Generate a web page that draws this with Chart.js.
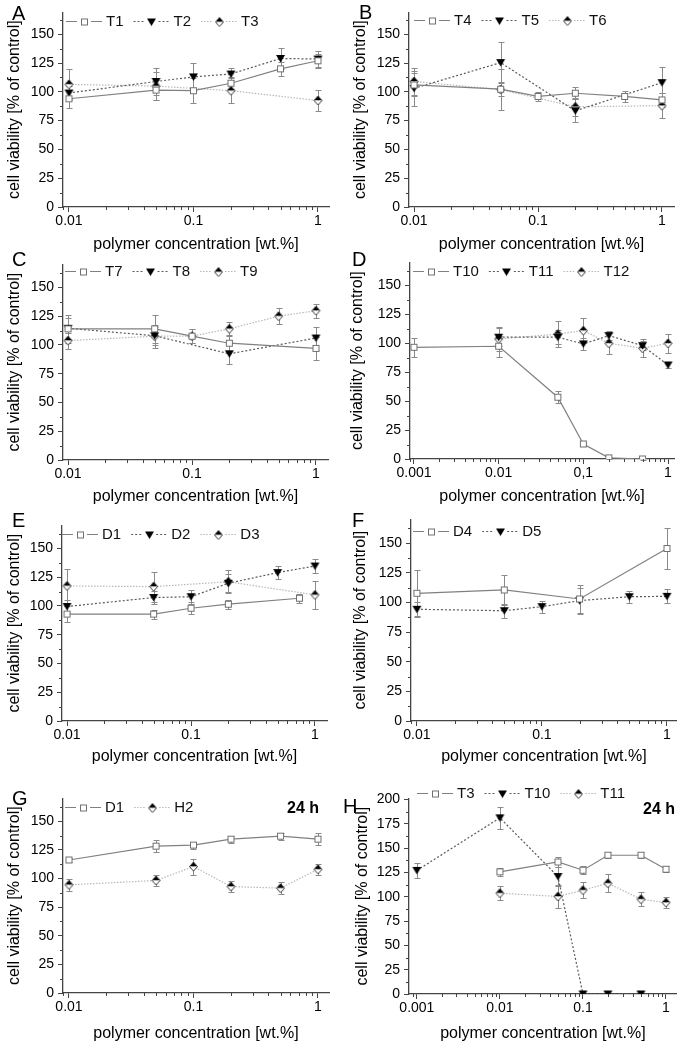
<!DOCTYPE html>
<html>
<head>
<meta charset="utf-8">
<script src="https://cdn.jsdelivr.net/npm/chart.js@4.4.1/dist/chart.umd.min.js"></script>
<style>
  html,body{margin:0;padding:0;background:#fff;}
  body{width:682px;height:1050px;position:relative;overflow:hidden;font-family:"Liberation Sans",Arial,sans-serif;}
  canvas{position:absolute;}
  .letter{position:absolute;font-size:20px;line-height:20px;color:#000;}
  .tag{position:absolute;font-size:16px;line-height:16px;font-weight:bold;color:#000;}
</style>
</head>
<body>
<script>
// ================= DATA =================
// Panel A
const A_T1_x = [0.01, 0.05, 0.1, 0.2, 0.5, 1];
const A_T1_y = [94, 101.5, 101, 107.5, 120, 127];
const A_T1_e = [8, 9, 11, 5, 6, 6];
const A_T2_x = [0.01, 0.05, 0.1, 0.2, 0.5, 1];
const A_T2_y = [99, 109, 113, 115.5, 129, 128.5];
const A_T2_e = [6, 12, 12, 5, 9, 7];
const A_T3_x = [0.01, 0.05, 0.2, 1];
const A_T3_y = [106.5, 105, 101, 92.5];
const A_T3_e = [13, 12, 11, 9.5];
// Panel B
const B_T4_x = [0.01, 0.05, 0.1, 0.2, 0.5, 1];
const B_T4_y = [106, 102.3, 96, 98.8, 96, 93];
const B_T4_e = [10, 6, 4, 5, 5, 6];
const B_T5_x = [0.01, 0.05, 0.2, 1];
const B_T5_y = [103, 125.4, 83.5, 108];
const B_T5_e = [15, 18, 10, 14];
const B_T6_x = [0.01, 0.05, 0.2, 1];
const B_T6_y = [109, 102, 87, 88];
const B_T6_e = [12, 18, 8, 11];
// Panel C
const C_T7_x = [0.01, 0.05, 0.1, 0.2, 1];
const C_T7_y = [114, 114, 107.6, 101.5, 97];
const C_T7_e = [12, 12, 6, 7, 10];
const C_T8_x = [0.01, 0.05, 0.2, 1];
const C_T8_y = [114.5, 108, 92.3, 106];
const C_T8_e = [9, 8, 9, 10];
const C_T9_x = [0.01, 0.05, 0.1, 0.2, 0.5, 1];
const C_T9_y = [103.8, 107.6, 107.6, 114, 125, 129.8];
const C_T9_e = [7, 10, 6, 6, 7, 6];
// Panel D
const D_T10_x = [0.001, 0.01, 0.05, 0.1, 0.2, 0.5];
const D_T10_y = [96.6, 97.5, 53.4, 13, 1, 0];
const D_T10_e = [8, 9, 5, 1, 1, 0.5];
const D_T11_x = [0.01, 0.05, 0.1, 0.2, 0.5, 1];
const D_T11_y = [105.3, 105.3, 99.5, 106.7, 98, 81.3];
const D_T11_e = [8, 6, 5, 4, 4, 3];
const D_T12_x = [0.01, 0.05, 0.1, 0.2, 0.5, 1];
const D_T12_y = [103.8, 108, 111, 100, 95.8, 100];
const D_T12_e = [10, 11, 11, 9, 8, 8];
// Panel E
const E_D1_x = [0.01, 0.05, 0.1, 0.2, 0.75];
const E_D1_y = [92.9, 92.9, 98, 101.5, 106.7];
const E_D1_e = [7, 4, 5, 4, 4];
const E_D2_x = [0.01, 0.05, 0.1, 0.2, 0.5, 1];
const E_D2_y = [99.5, 107.3, 108, 119.7, 129, 134.7];
const E_D2_e = [6, 6, 6, 8, 6, 6];
const E_D3_x = [0.01, 0.05, 0.2, 1];
const E_D3_y = [117.4, 116.8, 121, 109.6];
const E_D3_e = [15, 13, 10, 12];
// Panel F
const F_D4_x = [0.01, 0.05, 0.2, 1];
const F_D4_y = [107.7, 110.5, 102.9, 145.5];
const F_D4_e = [20, 13, 12, 17];
const F_D5_x = [0.01, 0.05, 0.1, 0.2, 0.5, 1];
const F_D5_y = [94.2, 93, 96.4, 101.5, 104.8, 105.1];
const F_D5_e = [6, 6, 5, 11, 5, 6];
// Panel G (24 h)
const G_D1_x = [0.01, 0.05, 0.1, 0.2, 0.5, 1];
const G_D1_y = [116.2, 128.3, 129.2, 134.4, 137, 134.4];
const G_D1_e = [2, 5, 3, 3, 3, 5];
const G_H2_x = [0.01, 0.05, 0.1, 0.2, 0.5, 1];
const G_H2_y = [94.5, 98.3, 110.4, 93, 91.6, 108];
const G_H2_e = [5, 5, 7, 5, 5, 5];
// Panel H (24 h)
const H_T3_x = [0.01, 0.05, 0.1, 0.2, 0.5, 1];
const H_T3_y = [125.5, 135.7, 127.2, 142.6, 142.6, 128.2];
const H_T3_e = [4, 5, 4, 3, 3, 3];
const H_T10_x = [0.001, 0.01, 0.05, 0.1, 0.2, 0.5];
const H_T10_y = [127, 181, 120.7, 0, 0, 0];
const H_T10_e = [8, 11, 10, 0, 0, 0];
const H_T11_x = [0.01, 0.05, 0.1, 0.2, 0.5, 1];
const H_T11_y = [103.6, 100.2, 106.7, 113.8, 97.4, 94];
const H_T11_e = [7, 12, 8, 9, 7, 6];

// tick labels
const xTicks2 = [0.01, 0.1, 1];
const xLabels2 = ['0.01', '0.1', '1'];
const xTicks3 = [0.001, 0.01, 0.1, 1];
const xLabelsD = ['0.001', '0.01', '0,1', '1'];
const xLabelsH = ['0.001', '0.01', '0.1', '1'];
const yTicks150 = [0, 25, 50, 75, 100, 125, 150];
const yTicks200 = [0, 25, 50, 75, 100, 125, 150, 175, 200];
const xTitle = 'polymer concentration [wt.%]';
const yTitle = 'cell viability [% of control]';

// ================= STYLE =================
const FONT = "'Liberation Sans', Arial, sans-serif";
Chart.defaults.font.family = FONT;
Chart.defaults.color = '#000';

function mkMarker(kind) {
  const c = document.createElement('canvas');
  c.width = 11; c.height = 11;
  const g = c.getContext('2d');
  g.translate(5.5, 5.5);
  if (kind === 'square') {
    g.fillStyle = '#fff'; g.fillRect(-3, -3, 6, 6);
    g.strokeStyle = '#707070'; g.lineWidth = 1; g.strokeRect(-3, -3, 6, 6);
  } else if (kind === 'tri') {
    g.fillStyle = '#000';
    g.beginPath(); g.moveTo(-4.5, -3.5); g.lineTo(4.5, -3.5); g.lineTo(0, 4); g.closePath(); g.fill();
  } else {
    g.fillStyle = '#000';
    g.beginPath(); g.moveTo(0, -4.5); g.lineTo(4, 0); g.lineTo(-4, 0); g.closePath(); g.fill();
    g.fillStyle = '#fff';
    g.beginPath(); g.moveTo(-4, 0); g.lineTo(4, 0); g.lineTo(0, 4.5); g.closePath(); g.fill();
    g.strokeStyle = '#222'; g.lineWidth = 0.9;
    g.beginPath(); g.moveTo(0, -4.5); g.lineTo(4, 0); g.lineTo(0, 4.5); g.lineTo(-4, 0); g.closePath(); g.stroke();
  }
  return c;
}
const MARK = { square: mkMarker('square'), tri: mkMarker('tri'), dia: mkMarker('dia') };
const SERIES_STYLE = {
  square: { borderColor: '#808080', borderWidth: 1.2, borderDash: [] },
  tri: { borderColor: '#5a5a5a', borderWidth: 1.2, borderDash: [2, 2] },
  dia: { borderColor: '#b8b8b8', borderWidth: 1.2, borderDash: [1.5, 1.5] }
};

function series(label, xs, ys, es, kind) {
  return Object.assign({
    label: label,
    data: xs.map((x, i) => ({ x: x, y: ys[i] })),
    errors: es,
    pointStyle: MARK[kind],
    pointRadius: 4,
    pointHoverRadius: 4,
    fill: false,
    tension: 0,
    showLine: true
  }, SERIES_STYLE[kind]);
}

// ================= PLUGINS =================
const errorBars = {
  id: 'errorBars',
  beforeDatasetsDraw(chart) {
    const { ctx, scales } = chart;
    const xs = scales.x, ys = scales.y;
    ctx.save();
    ctx.strokeStyle = '#8a8a8a';
    ctx.lineWidth = 1;
    chart.data.datasets.forEach(ds => {
      ds.data.forEach((p, i) => {
        const e = ds.errors[i];
        if (!e) return;
        const px = Math.round(xs.getPixelForValue(p.x)) + 0.5;
        const y1 = Math.round(ys.getPixelForValue(p.y - e)) + 0.5;
        const y2 = Math.round(ys.getPixelForValue(p.y + e)) + 0.5;
        ctx.beginPath();
        ctx.moveTo(px, y1); ctx.lineTo(px, y2);
        ctx.moveTo(px - 3, y1); ctx.lineTo(px + 3, y1);
        ctx.moveTo(px - 3, y2); ctx.lineTo(px + 3, y2);
        ctx.stroke();
      });
    });
    ctx.restore();
  }
};

const minorTicks = {
  id: 'minorTicks',
  afterDraw(chart) {
    const { ctx, scales, chartArea } = chart;
    const xs = scales.x, ys = scales.y;
    ctx.save();
    ctx.strokeStyle = '#444';
    ctx.lineWidth = 1;
    ctx.beginPath();
    for (let d = -4; d <= 1; d++) {
      for (let m = 2; m <= 9; m++) {
        const v = m * Math.pow(10, d);
        if (v < xs.min || v > xs.max) continue;
        const px = Math.round(xs.getPixelForValue(v)) + 0.5;
        ctx.moveTo(px, chartArea.bottom);
        ctx.lineTo(px, chartArea.bottom + 3);
      }
    }
    for (let v = 12.5; v <= ys.max; v += 25) {
      const py = Math.round(ys.getPixelForValue(v)) + 0.5;
      ctx.moveTo(chartArea.left - 3, py);
      ctx.lineTo(chartArea.left, py);
    }
    ctx.stroke();
    ctx.restore();
  }
};

const seriesKey = {
  id: 'seriesKey',
  afterDraw(chart, args, opts) {
    const ctx = chart.ctx;
    let x = opts.x;
    const y = opts.y;
    const L = 36, gap = 4, itemGap = 10;
    ctx.save();
    ctx.font = '15px ' + FONT;
    ctx.textBaseline = 'middle';
    ctx.fillStyle = '#111';
    chart.data.datasets.forEach(ds => {
      ctx.strokeStyle = ds.borderColor;
      ctx.lineWidth = ds.borderWidth;
      ctx.setLineDash(ds.borderDash || []);
      const mid = x + L / 2;
      ctx.beginPath();
      ctx.moveTo(x, y + 0.5); ctx.lineTo(mid - 7, y + 0.5);
      ctx.moveTo(mid + 7, y + 0.5); ctx.lineTo(x + L, y + 0.5);
      ctx.stroke();
      ctx.setLineDash([]);
      const img = ds.pointStyle;
      ctx.drawImage(img, Math.round(mid - img.width / 2), Math.round(y - img.height / 2) + 0.5);
      ctx.fillText(ds.label, x + L + gap, y + 1);
      x += L + gap + ctx.measureText(ds.label).width + itemGap;
    });
    ctx.restore();
  }
};

// ================= PANELS =================
const panels = [
  { letter: 'A', col: 0, left: 63, right: 329, top: 12, bottom: 207, xmin: 0.00895, xmax: 1.226, ymax: 169,
    xt: xTicks2, xl: xLabels2, yt: yTicks150, titleOff: 38, yTitleX: 15, legX: 66, legY: 21, letterX: 12, letterY: 6,
    ds: [series('T1', A_T1_x, A_T1_y, A_T1_e, 'square'), series('T2', A_T2_x, A_T2_y, A_T2_e, 'tri'), series('T3', A_T3_x, A_T3_y, A_T3_e, 'dia')] },
  { letter: 'B', col: 1, left: 409, right: 674, top: 12, bottom: 207, xmin: 0.00911, xmax: 1.25, ymax: 169,
    xt: xTicks2, xl: xLabels2, yt: yTicks150, titleOff: 38, yTitleX: 20, legX: 414, legY: 20, letterX: 359, letterY: 5,
    ds: [series('T4', B_T4_x, B_T4_y, B_T4_e, 'square'), series('T5', B_T5_x, B_T5_y, B_T5_e, 'tri'), series('T6', B_T6_x, B_T6_y, B_T6_e, 'dia')] },
  { letter: 'C', col: 0, left: 63, right: 328, top: 264, bottom: 460, xmin: 0.00911, xmax: 1.25, ymax: 170,
    xt: xTicks2, xl: xLabels2, yt: yTicks150, titleOff: 37, yTitleX: 15, legX: 65, legY: 271, letterX: 12, letterY: 252,
    ds: [series('T7', C_T7_x, C_T7_y, C_T7_e, 'square'), series('T8', C_T8_x, C_T8_y, C_T8_e, 'tri'), series('T9', C_T9_x, C_T9_y, C_T9_e, 'dia')] },
  { letter: 'D', col: 1, left: 410, right: 674, top: 262, bottom: 459, xmin: 0.000897, xmax: 1.177, ymax: 170,
    xt: xTicks3, xl: xLabelsD, yt: yTicks150, titleOff: 38, yTitleX: 17, legX: 413, legY: 271, letterX: 352, letterY: 252,
    ds: [series('T10', D_T10_x, D_T10_y, D_T10_e, 'square'), series('T11', D_T11_x, D_T11_y, D_T11_e, 'tri'), series('T12', D_T12_x, D_T12_y, D_T12_e, 'dia')] },
  { letter: 'E', col: 0, left: 62, right: 327, top: 525, bottom: 721, xmin: 0.00911, xmax: 1.25, ymax: 170,
    xt: xTicks2, xl: xLabels2, yt: yTicks150, titleOff: 36, yTitleX: 15, legX: 62, legY: 534, letterX: 12, letterY: 513,
    ds: [series('D1', E_D1_x, E_D1_y, E_D1_e, 'square'), series('D2', E_D2_x, E_D2_y, E_D2_e, 'tri'), series('D3', E_D3_x, E_D3_y, E_D3_e, 'dia')] },
  { letter: 'F', col: 1, left: 411, right: 681, top: 519, bottom: 721, xmin: 0.00897, xmax: 1.199, ymax: 170,
    xt: xTicks2, xl: xLabels2, yt: yTicks150, titleOff: 36, yTitleX: 20, legX: 413, legY: 531, letterX: 352, letterY: 513,
    ds: [series('D4', F_D4_x, F_D4_y, F_D4_e, 'square'), series('D5', F_D5_x, F_D5_y, F_D5_e, 'tri')] },
  { letter: 'G', col: 0, left: 63, right: 329, top: 798, bottom: 993, xmin: 0.00895, xmax: 1.226, ymax: 170,
    xt: xTicks2, xl: xLabels2, yt: yTicks150, titleOff: 41, yTitleX: 15, legX: 65, legY: 807, letterX: 12, letterY: 791, tag: [287, 802],
    ds: [series('D1', G_D1_x, G_D1_y, G_D1_e, 'square'), series('H2', G_H2_x, G_H2_y, G_H2_e, 'dia')] },
  { letter: 'H', col: 1, left: 409, right: 681, top: 798, bottom: 994, xmin: 0.000804, xmax: 1.35, ymax: 201,
    xt: xTicks3, xl: xLabelsH, yt: yTicks200, titleOff: 40, yTitleX: 22, legX: 417, legY: 793, letterX: 343, letterY: 799, tag: [643, 803],
    ds: [series('T3', H_T3_x, H_T3_y, H_T3_e, 'square'), series('T10', H_T10_x, H_T10_y, H_T10_e, 'tri'), series('T11', H_T11_x, H_T11_y, H_T11_e, 'dia')] }
];

panels.forEach(p => {
  const cl = p.col === 0 ? 0 : 341;
  const cw = 341;
  const ct = p.top - 12;
  const XH = 55;
  const ch = p.bottom + XH - ct;
  const cv = document.createElement('canvas');
  cv.width = cw; cv.height = ch;
  cv.style.left = cl + 'px'; cv.style.top = ct + 'px';
  cv.style.width = cw + 'px'; cv.style.height = ch + 'px';
  document.body.appendChild(cv);

  const lt = document.createElement('div');
  lt.className = 'letter';
  lt.textContent = p.letter;
  lt.style.left = p.letterX + 'px';
  lt.style.top = (p.letterY - 3) + 'px';
  document.body.appendChild(lt);
  if (p.tag) {
    const tg = document.createElement('div');
    tg.className = 'tag';
    tg.textContent = '24 h';
    tg.style.left = p.tag[0] + 'px';
    tg.style.top = (p.tag[1] - 2) + 'px';
    document.body.appendChild(tg);
  }

  const yW = p.left - cl;
  const titleLH = 16 * 1.2;
  new Chart(cv, {
    type: 'line',
    data: { datasets: p.ds },
    plugins: [errorBars, minorTicks, seriesKey],
    options: {
      responsive: false,
      animation: false,
      devicePixelRatio: 1,
      events: [],
      layout: { padding: { top: 12, right: cl + cw - p.right, left: 0, bottom: 0 } },
      plugins: {
        legend: { display: false },
        tooltip: { enabled: false },
        seriesKey: { x: p.legX - cl, y: p.legY - ct }
      },
      scales: {
        x: {
          type: 'logarithmic',
          position: 'bottom',
          min: p.xmin, max: p.xmax,
          afterBuildTicks: s => { s.ticks = p.xt.map(v => ({ value: v, major: true })); },
          afterFit: s => { s.height = XH; },
          ticks: { callback: (v, i) => p.xl[i], font: { size: 14 }, color: '#000', padding: 1, maxRotation: 0, autoSkip: false },
          grid: { display: true, drawOnChartArea: false, drawTicks: true, tickLength: 5, tickColor: '#444', tickWidth: 1 },
          border: { display: true, color: '#444', width: 1.3 },
          title: { display: true, text: xTitle, font: { size: 16 }, color: '#000', padding: { top: 0, bottom: XH - titleLH / 2 - p.titleOff } }
        },
        y: {
          type: 'linear',
          position: 'left',
          min: 0, max: p.ymax,
          afterBuildTicks: s => { s.ticks = p.yt.map(v => ({ value: v })); },
          afterFit: s => { s.width = yW; },
          ticks: { font: { size: 14 }, color: '#000', padding: 4, callback: v => String(v) },
          grid: { display: true, drawOnChartArea: false, drawTicks: true, tickLength: 5, tickColor: '#444', tickWidth: 1 },
          border: { display: true, color: '#444', width: 1.3 },
          title: { display: true, text: yTitle, font: { size: 16 }, color: '#000', padding: { top: p.yTitleX - titleLH / 2, bottom: 0 } }
        }
      }
    }
  });
});
</script>
</body>
</html>
